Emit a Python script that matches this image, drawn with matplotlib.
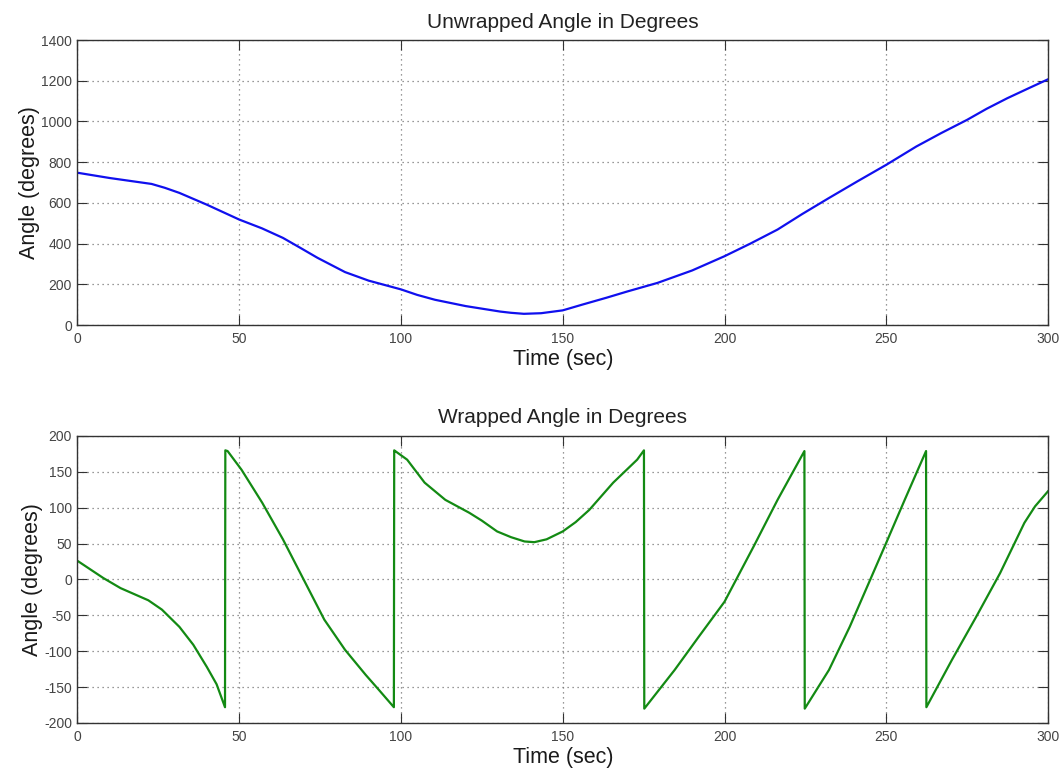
import matplotlib
matplotlib.use("Agg")
import matplotlib.pyplot as plt

plt.rcParams['font.family'] = ['Liberation Sans', 'DejaVu Sans']
plt.rcParams['axes.unicode_minus'] = False

# --- Data ---
unwrapped_time = [0, 10, 22.9, 27, 31.5, 40, 50, 57, 63.5, 69, 74.2, 82.7, 90, 100,
                  105, 110.5, 120, 130.7, 134, 138, 143.3, 150, 156, 163.5, 170,
                  179.3, 190, 200, 208, 216.4, 224, 232.3, 241, 250, 259.3, 267,
                  275, 281, 287.4, 294, 300]
unwrapped_angle = [748, 722, 693, 674, 649, 591, 518, 475, 428, 378, 330, 260, 218,
                   175, 148, 124, 93, 66, 60, 55, 58, 72, 100, 134, 165,
                   207, 268, 338, 400, 469, 545, 624, 705, 787, 877, 943,
                   1008, 1062, 1114, 1163, 1207]

wrapped_time = [0, 8, 13.3, 21.9, 26.1, 31.5, 35.8, 40, 43, 45.6,
                45.7, 46.4, 50.7, 57.1, 63.5, 69.9, 76.3, 82.7, 89.1, 93, 97.8,
                97.9, 98.2, 101.9, 107.3, 113.7, 121.1, 125, 129.7, 134, 138.2, 141.2,
                145, 150, 154, 158.2, 165.6, 173, 175.1,
                175.2, 184.6, 192, 200, 209, 216.4, 224.7,
                224.8, 232.3, 238.7, 249.5, 255.7, 262.3,
                262.4, 270.3, 277.8, 285.2, 292.7, 296, 300]
wrapped_angle = [26, 2, -12, -29, -42, -66, -91, -122, -146, -178,
                 180, 179, 153, 107, 56, 0, -56, -98, -133, -153, -178,
                 180, 179, 167, 135, 111, 93, 82, 67, 59, 53, 52,
                 56, 67, 80, 97, 135, 167, 180,
                 -180, -126, -80, -31, 46, 111, 179,
                 -180, -126, -66, 46, 111, 179,
                 -178, -112, -52, 9, 79, 102, 123]

titles = ["Unwrapped Angle in Degrees", "Wrapped Angle in Degrees"]
xlabel = "Time (sec)"
ylabel = "Angle (degrees)"
top_yticks = [0, 200, 400, 600, 800, 1000, 1200, 1400]
bottom_yticks = [-200, -150, -100, -50, 0, 50, 100, 150, 200]
xticks = [0, 50, 100, 150, 200, 250, 300]

fig = plt.figure(figsize=(10.6, 7.68), dpi=100)
ax1 = fig.add_axes([0.0731, 0.5768, 0.9156, 0.3711])
ax2 = fig.add_axes([0.0731, 0.0586, 0.9156, 0.3737])

ax1.plot(unwrapped_time, unwrapped_angle, color='#1010ee', lw=1.6)
ax2.plot(wrapped_time, wrapped_angle, color='#138a13', lw=1.6)

for ax, title, yt in [(ax1, titles[0], top_yticks), (ax2, titles[1], bottom_yticks)]:
    ax.set_xlim(0, 300)
    ax.set_ylim(yt[0], yt[-1])
    ax.set_xticks(xticks)
    ax.set_yticks(yt)
    ax.grid(True, linestyle=(0, (1, 3)), color='#777777', lw=0.9)
    ax.tick_params(direction='in', length=7, width=0.8, top=True, right=True,
                   labelsize=10, labelcolor='#444444', color='#333333')
    ax.tick_params(axis='x', pad=5)
    ax.tick_params(axis='y', pad=4)
    for s in ax.spines.values():
        s.set_color('#333333')
        s.set_linewidth(1.0)
    ax.set_title(title, fontsize=15, color='#222222', pad=9)
    ax.set_xlabel(xlabel, fontsize=15.5, color='#1a1a1a', labelpad=2)
    ax.set_ylabel(ylabel, fontsize=15.5, color='#1a1a1a', labelpad=1)

fig.savefig("out.png", dpi=100)
